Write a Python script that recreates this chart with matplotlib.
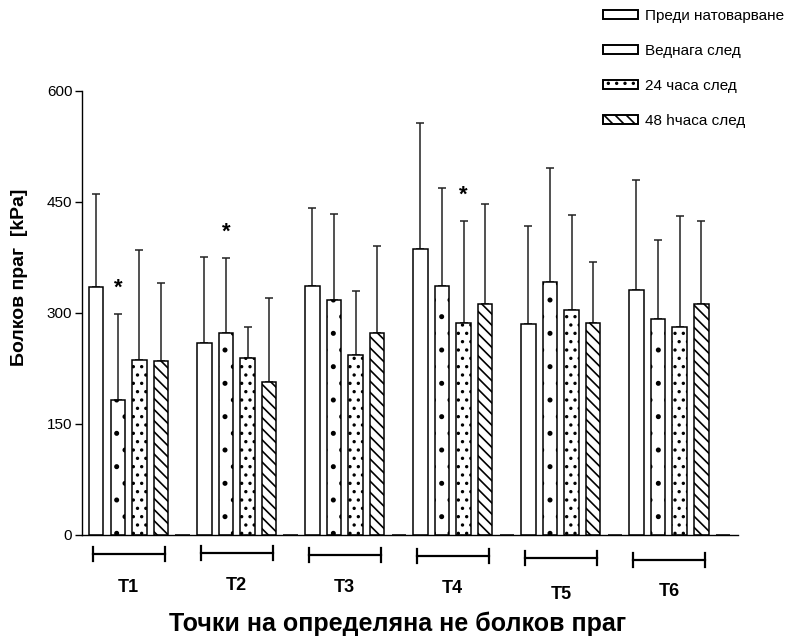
import matplotlib
matplotlib.use("Agg")
import matplotlib.pyplot as plt
from matplotlib.patches import Patch
import numpy as np

plt.rcParams['font.family'] = ['Liberation Sans', 'DejaVu Sans']
plt.rcParams['hatch.linewidth'] = 1.2

groups = ["T1", "T2", "T3", "T4", "T5", "T6"]
series = ["Преди натоварване", "Веднага след", "24 часа след", "48 hчаса след"]

# mean values per series (one value per group T1..T6)
pre = [335, 259, 337, 387, 285, 331]
immediately = [182, 273, 318, 337, 342, 292]
after_24h = [236, 239, 243, 286, 304, 281]
after_48h = [235, 207, 273, 312, 286, 312]

# upper SD
pre_sd = [126, 117, 105, 170, 133, 149]
immediately_sd = [117, 101, 116, 132, 154, 107]
after_24h_sd = [149, 42, 87, 138, 128, 150]
after_48h_sd = [106, 113, 118, 135, 83, 112]

# significant differences: (group index, series index)
significant = [(0, 1), (1, 1), (3, 2)]

means = [pre, immediately, after_24h, after_48h]
sds = [pre_sd, immediately_sd, after_24h_sd, after_48h_sd]
hatches = ["", ".", "..", "\\\\\\"]
legend_hatches = ["", "", "..", "\\\\\\"]

SLOTS = 5  # 4 bars + one empty slot per group
BAR_W = 0.67


def main():
    fig = plt.figure(figsize=(7.99, 6.42), dpi=100)
    ax = fig.add_axes([0.1026, 0.1667, 0.8211, 0.6916])

    n = len(groups)
    base = np.arange(n) * SLOTS
    for k in range(len(series)):
        x = base + k
        ax.bar(x, means[k], width=BAR_W, color="white", edgecolor="black",
               linewidth=1.1, hatch=hatches[k], zorder=2)
        ax.errorbar(x, means[k], yerr=[np.zeros(n), sds[k]], fmt="none",
                    ecolor="#222222", elinewidth=1.1, capsize=3, capthick=1.1,
                    zorder=1)
    # empty 5th slot in every group (zero-height bar, as in the original)
    ax.bar(base + 4, np.zeros(n), width=BAR_W, color="white", edgecolor="black",
           linewidth=1.1)

    for g, k in significant:
        top = means[k][g] + sds[k][g]
        ax.annotate("*", (base[g] + k, top), xytext=(0, 11), textcoords="offset points",
                    ha="center", va="bottom", fontsize=16, fontweight="bold")

    ax.set_xlim(-0.66, 29.7)
    ax.set_ylim(0, 600)
    ax.set_yticks([0, 150, 300, 450, 600])
    ax.set_xticks([])
    ax.tick_params(axis="y", labelsize=11, length=5, width=1.0, pad=2)
    for s in ["top", "right"]:
        ax.spines[s].set_visible(False)
    ax.spines["left"].set_linewidth(1.0)
    ax.spines["bottom"].set_linewidth(1.0)

    # group brackets under the axis
    tr = ax.get_xaxis_transform()
    bracket_y = [-0.043, -0.040, -0.045, -0.047, -0.052, -0.056]
    label_y = [-0.119, -0.114, -0.119, -0.121, -0.133, -0.127]
    for g in range(n):
        x0 = base[g] - 0.17
        x1 = base[g] + 3 + 0.17
        y = bracket_y[g]
        ax.plot([x0, x1], [y, y], color="black", lw=1.6, transform=tr, clip_on=False)
        for xe in (x0, x1):
            ax.plot([xe, xe], [y - 0.016, y + 0.016], color="black", lw=1.6,
                    transform=tr, clip_on=False)
        ax.text((x0 + x1) / 2, label_y[g], groups[g], transform=tr, ha="center",
                va="center", fontsize=13, fontweight="bold")

    fig.text(0.498, 1 - 624 / 642, "Точки на определяна не болков праг",
             ha="center", va="center", fontsize=18, fontweight="bold")
    fig.text(0.024, 1 - 277 / 642, "Болков праг  [kPa]", rotation=90,
             ha="center", va="center", fontsize=14, fontweight="bold")

    handles = [Patch(facecolor="white", edgecolor="black", linewidth=1.4, hatch=h)
               for h in legend_hatches]
    fig.legend(handles, series, loc="upper left",
               bbox_to_anchor=(603 / 799, 1 - 9 / 642), frameon=False,
               fontsize=11, handlelength=2.3, handleheight=0.5,
               handletextpad=0.45, labelspacing=1.38, borderpad=0,
               borderaxespad=0)

    fig.savefig("out.png", dpi=100)


if __name__ == "__main__":
    main()
